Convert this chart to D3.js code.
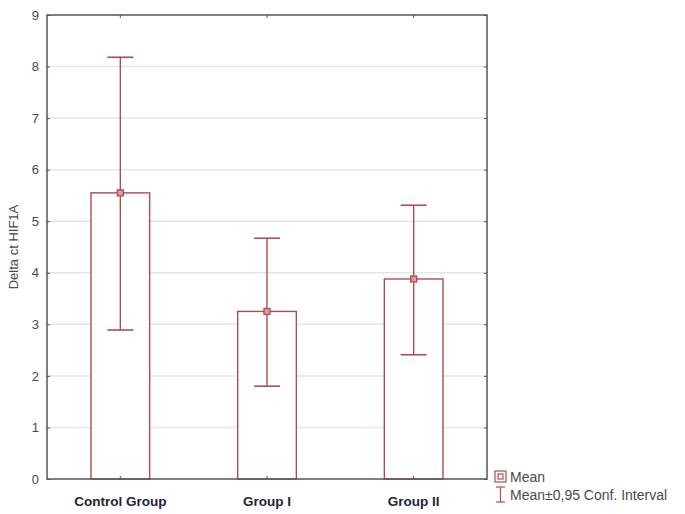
<!DOCTYPE html>
<html>
<head>
<meta charset="utf-8">
<script src="https://cdn.jsdelivr.net/npm/d3@7"></script>
<style>
  body { margin: 0; background: #fff; }
  svg { display: block; font-family: Arial, "Liberation Sans", sans-serif; }
</style>
</head>
<body>
<div id="chart"></div>
<script>
const groups = ['Control Group', 'Group I', 'Group II'];
const means = [5.55, 3.25, 3.88];
const lower = [2.89, 1.80, 2.41];
const upper = [8.18, 4.67, 5.31];
const yTicks = [0, 1, 2, 3, 4, 5, 6, 7, 8, 9];

const W = 685, H = 514;
const margin = { left: 47, top: 15, right: 198, bottom: 35 };
const red = '#b04a53';

const svg = d3.select('#chart').append('svg')
  .attr('width', W)
  .attr('height', H);

const x = d3.scaleBand().domain(groups)
  .range([margin.left, W - margin.right]).padding(0);
const y = d3.scaleLinear().domain([0, 9])
  .range([H - margin.bottom, margin.top]);

// grid
svg.append('g').selectAll('line')
  .data(yTicks.slice(1, -1))
  .enter().append('line')
  .attr('x1', margin.left).attr('x2', W - margin.right)
  .attr('y1', d => y(d)).attr('y2', d => y(d))
  .attr('stroke', '#e6e6e6').attr('stroke-width', 1.5);

// bars
const barW = x.bandwidth() * 0.4;
const g = svg.append('g');
groups.forEach((grp, i) => {
  const cx = x(grp) + x.bandwidth() / 2;
  g.append('rect')
    .attr('x', cx - barW / 2).attr('y', y(means[i]))
    .attr('width', barW).attr('height', y(0) - y(means[i]))
    .attr('fill', '#fff').attr('stroke', red).attr('stroke-width', 1.4);
  g.append('line')
    .attr('x1', cx).attr('x2', cx)
    .attr('y1', y(lower[i])).attr('y2', y(upper[i]))
    .attr('stroke', red).attr('stroke-width', 1.4);
  [lower[i], upper[i]].forEach(v => {
    g.append('line')
      .attr('x1', cx - 13).attr('x2', cx + 13)
      .attr('y1', y(v)).attr('y2', y(v))
      .attr('stroke', red).attr('stroke-width', 1.6);
  });
  g.append('rect')
    .attr('x', cx - 3).attr('y', y(means[i]) - 3)
    .attr('width', 6).attr('height', 6)
    .attr('fill', '#d99aa0').attr('stroke', red).attr('stroke-width', 1.3);
});

// frame
svg.append('rect')
  .attr('x', margin.left).attr('y', margin.top)
  .attr('width', W - margin.left - margin.right)
  .attr('height', H - margin.top - margin.bottom)
  .attr('fill', 'none').attr('stroke', '#555').attr('stroke-width', 1.5);

// axes
const yAxis = svg.append('g')
  .attr('transform', `translate(${margin.left},0)`)
  .call(d3.axisLeft(y).tickValues(yTicks).tickSize(-3).tickPadding(8));
yAxis.select('.domain').remove();
yAxis.selectAll('line').attr('stroke', '#555');
yAxis.selectAll('text').attr('fill', '#4a4a4a').attr('font-size', 13);

const yAxisR = svg.append('g')
  .attr('transform', `translate(${W - margin.right},0)`)
  .call(d3.axisRight(y).tickValues(yTicks).tickSize(-3).tickFormat(''));
yAxisR.select('.domain').remove();
yAxisR.selectAll('line').attr('stroke', '#555');

const xAxis = svg.append('g')
  .attr('transform', `translate(0,${H - margin.bottom})`)
  .call(d3.axisBottom(x).tickSize(-3).tickPadding(17));
xAxis.select('.domain').remove();
xAxis.selectAll('line').attr('stroke', '#555');
xAxis.selectAll('text')
  .attr('fill', '#1c2436').attr('font-size', 13.5).attr('font-weight', 'bold');

const xAxisT = svg.append('g')
  .attr('transform', `translate(0,${margin.top})`)
  .call(d3.axisTop(x).tickSize(-3).tickFormat(''));
xAxisT.select('.domain').remove();
xAxisT.selectAll('line').attr('stroke', '#555');

// y label
svg.append('text')
  .attr('transform', `translate(18,${(margin.top + H - margin.bottom) / 2}) rotate(-90)`)
  .attr('text-anchor', 'middle')
  .attr('fill', '#4a4a4a').attr('font-size', 13)
  .text('Delta ct HIF1A');

// legend
const lg = svg.append('g').attr('transform', 'translate(495,471)');
lg.append('rect').attr('x', 0).attr('y', 0).attr('width', 11).attr('height', 11)
  .attr('fill', '#fff').attr('stroke', red).attr('stroke-width', 1.2);
lg.append('rect').attr('x', 3).attr('y', 3).attr('width', 5).attr('height', 5)
  .attr('fill', '#fff').attr('stroke', red).attr('stroke-width', 1.2);
lg.append('text').attr('x', 15).attr('y', 11).attr('fill', '#4a4a4a').attr('font-size', 14).text('Mean');
lg.append('line').attr('x1', 5.5).attr('x2', 5.5).attr('y1', 16).attr('y2', 31).attr('stroke', red).attr('stroke-width', 1.2);
lg.append('line').attr('x1', 1).attr('x2', 10).attr('y1', 16).attr('y2', 16).attr('stroke', red).attr('stroke-width', 1.2);
lg.append('line').attr('x1', 1).attr('x2', 10).attr('y1', 31).attr('y2', 31).attr('stroke', red).attr('stroke-width', 1.2);
lg.append('text').attr('x', 15).attr('y', 29).attr('fill', '#4a4a4a').attr('font-size', 14).text('Mean±0,95 Conf. Interval');
</script>
</body>
</html>
